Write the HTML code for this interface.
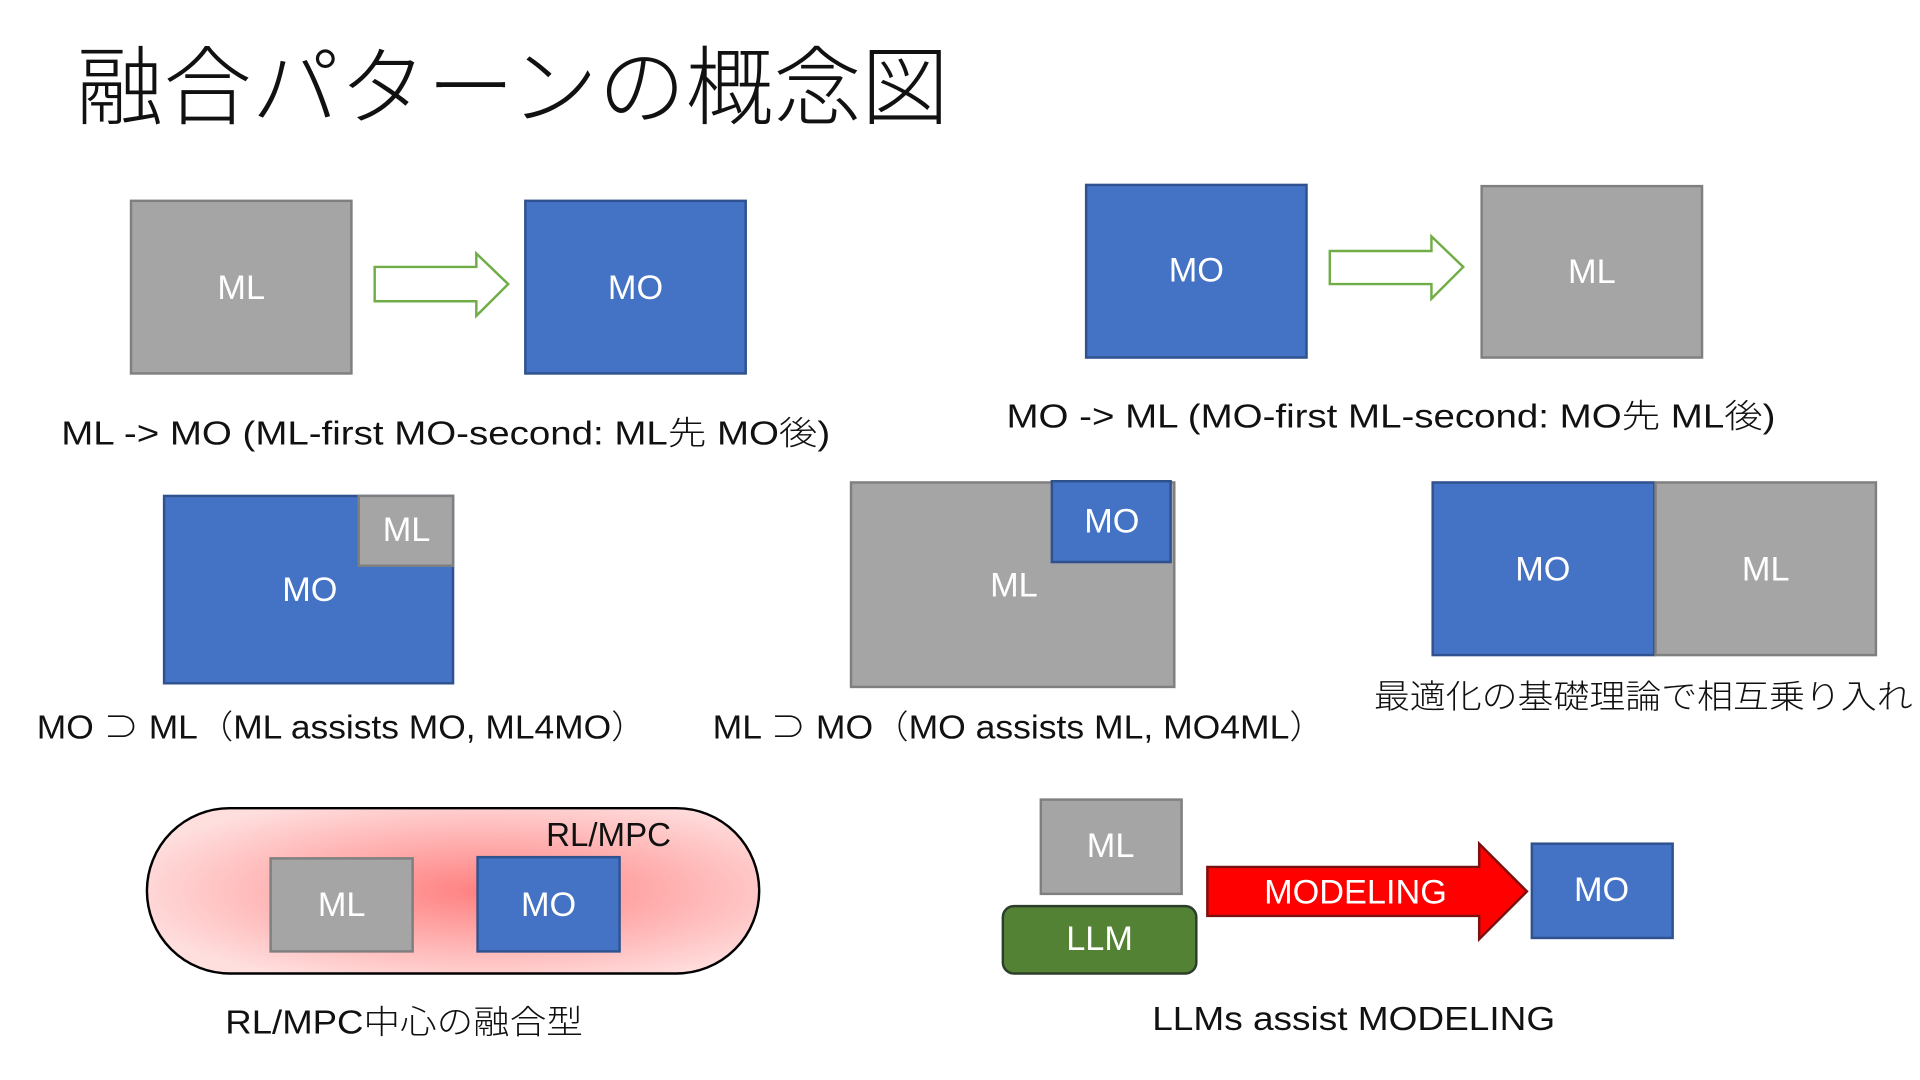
<!DOCTYPE html>
<html><head><meta charset="utf-8"><style>
html,body{margin:0;padding:0;background:#fff;width:1920px;height:1080px;overflow:hidden}
svg{display:block}
text{font-family:"Liberation Sans","Noto Sans CJK JP",sans-serif}
.w{fill:#fff;font-size:28px;font-weight:300}
.c{fill:#111;font-size:27px;font-weight:300}
</style></head><body>
<svg width="1920" height="1080" viewBox="0 0 1568 882" xmlns="http://www.w3.org/2000/svg">
<defs>
<radialGradient id="rg" cx="0.55" cy="0.5" r="0.6">
<stop offset="0" stop-color="#ff8080"/><stop offset="1" stop-color="#ffdede"/>
</radialGradient>
</defs>
<text x="62" y="96" font-size="70" font-weight="300" fill="#111" textLength="713" lengthAdjust="spacingAndGlyphs">融合パターンの概念図</text>

<!-- 1 -->
<rect x="107" y="164" width="180" height="141" fill="#a5a5a5" stroke="#7f7f7f" stroke-width="2"/>
<text class="w" x="197" y="244" text-anchor="middle">ML</text>
<path d="M306 218 H389 V207 L415 232 L389 258 V246 H306 Z" fill="#fff" stroke="#70ad47" stroke-width="2"/>
<rect x="429" y="164" width="180" height="141" fill="#4472c4" stroke="#2f528f" stroke-width="2"/>
<text class="w" x="519" y="244" text-anchor="middle">MO</text>
<text class="c" x="50" y="363" textLength="628" lengthAdjust="spacingAndGlyphs">ML -&gt; MO (ML-first MO-second: ML先 MO後)</text>

<!-- 2 -->
<rect x="887" y="151" width="180" height="141" fill="#4472c4" stroke="#2f528f" stroke-width="2"/>
<text class="w" x="977" y="230" text-anchor="middle">MO</text>
<path d="M1086 205 H1169 V193 L1195 218 L1169 244 V232 H1086 Z" fill="#fff" stroke="#70ad47" stroke-width="2"/>
<rect x="1210" y="152" width="180" height="140" fill="#a5a5a5" stroke="#7f7f7f" stroke-width="2"/>
<text class="w" x="1300" y="231" text-anchor="middle">ML</text>
<text class="c" x="822" y="349" textLength="628" lengthAdjust="spacingAndGlyphs">MO -&gt; ML (MO-first ML-second: MO先 ML後)</text>

<!-- 3 -->
<rect x="134" y="405" width="236" height="153" fill="#4472c4" stroke="#2f528f" stroke-width="2"/>
<rect x="293" y="405" width="77" height="57" fill="#a5a5a5" stroke="#7f7f7f" stroke-width="2"/>
<text class="w" x="332" y="442" text-anchor="middle">ML</text>
<text class="w" x="253" y="491" text-anchor="middle">MO</text>
<text class="c" x="30" y="603" textLength="498" lengthAdjust="spacingAndGlyphs">MO ⊃ ML（ML assists MO, ML4MO）</text>

<!-- 4 -->
<rect x="695" y="394" width="264" height="167" fill="#a5a5a5" stroke="#7f7f7f" stroke-width="2"/>
<rect x="859" y="393" width="97" height="66" fill="#4472c4" stroke="#2f528f" stroke-width="2"/>
<text class="w" x="908" y="435" text-anchor="middle">MO</text>
<text class="w" x="828" y="487" text-anchor="middle">ML</text>
<text class="c" x="582" y="603" textLength="500" lengthAdjust="spacingAndGlyphs">ML ⊃ MO（MO assists ML, MO4ML）</text>

<!-- 5 -->
<rect x="1170" y="394" width="181" height="141" fill="#4472c4" stroke="#2f528f" stroke-width="2"/>
<text class="w" x="1260" y="474" text-anchor="middle">MO</text>
<rect x="1352" y="394" width="180" height="141" fill="#a5a5a5" stroke="#7f7f7f" stroke-width="2"/>
<text class="w" x="1442" y="474" text-anchor="middle">ML</text>
<text class="c" x="1122" y="578" textLength="440" lengthAdjust="spacingAndGlyphs">最適化の基礎理論で相互乗り入れ</text>

<!-- 6 -->
<rect x="120" y="660" width="500" height="135" rx="67.5" fill="url(#rg)" stroke="#000" stroke-width="2"/>
<text x="446" y="691" font-size="27" font-weight="300" fill="#111">RL/MPC</text>
<rect x="221" y="701" width="116" height="76" fill="#a5a5a5" stroke="#7f7f7f" stroke-width="2"/>
<text class="w" x="279" y="748" text-anchor="middle">ML</text>
<rect x="390" y="700" width="116" height="77" fill="#4472c4" stroke="#2f528f" stroke-width="2"/>
<text class="w" x="448" y="748" text-anchor="middle">MO</text>
<text class="c" x="184" y="844" textLength="292" lengthAdjust="spacingAndGlyphs">RL/MPC中心の融合型</text>

<!-- 7 -->
<rect x="850" y="653" width="115" height="77" fill="#a5a5a5" stroke="#7f7f7f" stroke-width="2"/>
<text class="w" x="907" y="700" text-anchor="middle">ML</text>
<rect x="819" y="740" width="158" height="55" rx="9" fill="#548235" stroke="#2c3e2a" stroke-width="2"/>
<text class="w" x="898" y="776" text-anchor="middle">LLM</text>
<path d="M986 708 H1208 V689 L1247 728 L1208 767 V748 H986 Z" fill="#ff0000" stroke="#7a1010" stroke-width="2"/>
<text class="w" x="1107" y="738" text-anchor="middle">MODELING</text>
<rect x="1251" y="689" width="115" height="77" fill="#4472c4" stroke="#2f528f" stroke-width="2"/>
<text class="w" x="1308" y="736" text-anchor="middle">MO</text>
<text class="c" x="941" y="841" textLength="329" lengthAdjust="spacingAndGlyphs">LLMs assist MODELING</text>
</svg>
</body></html>
